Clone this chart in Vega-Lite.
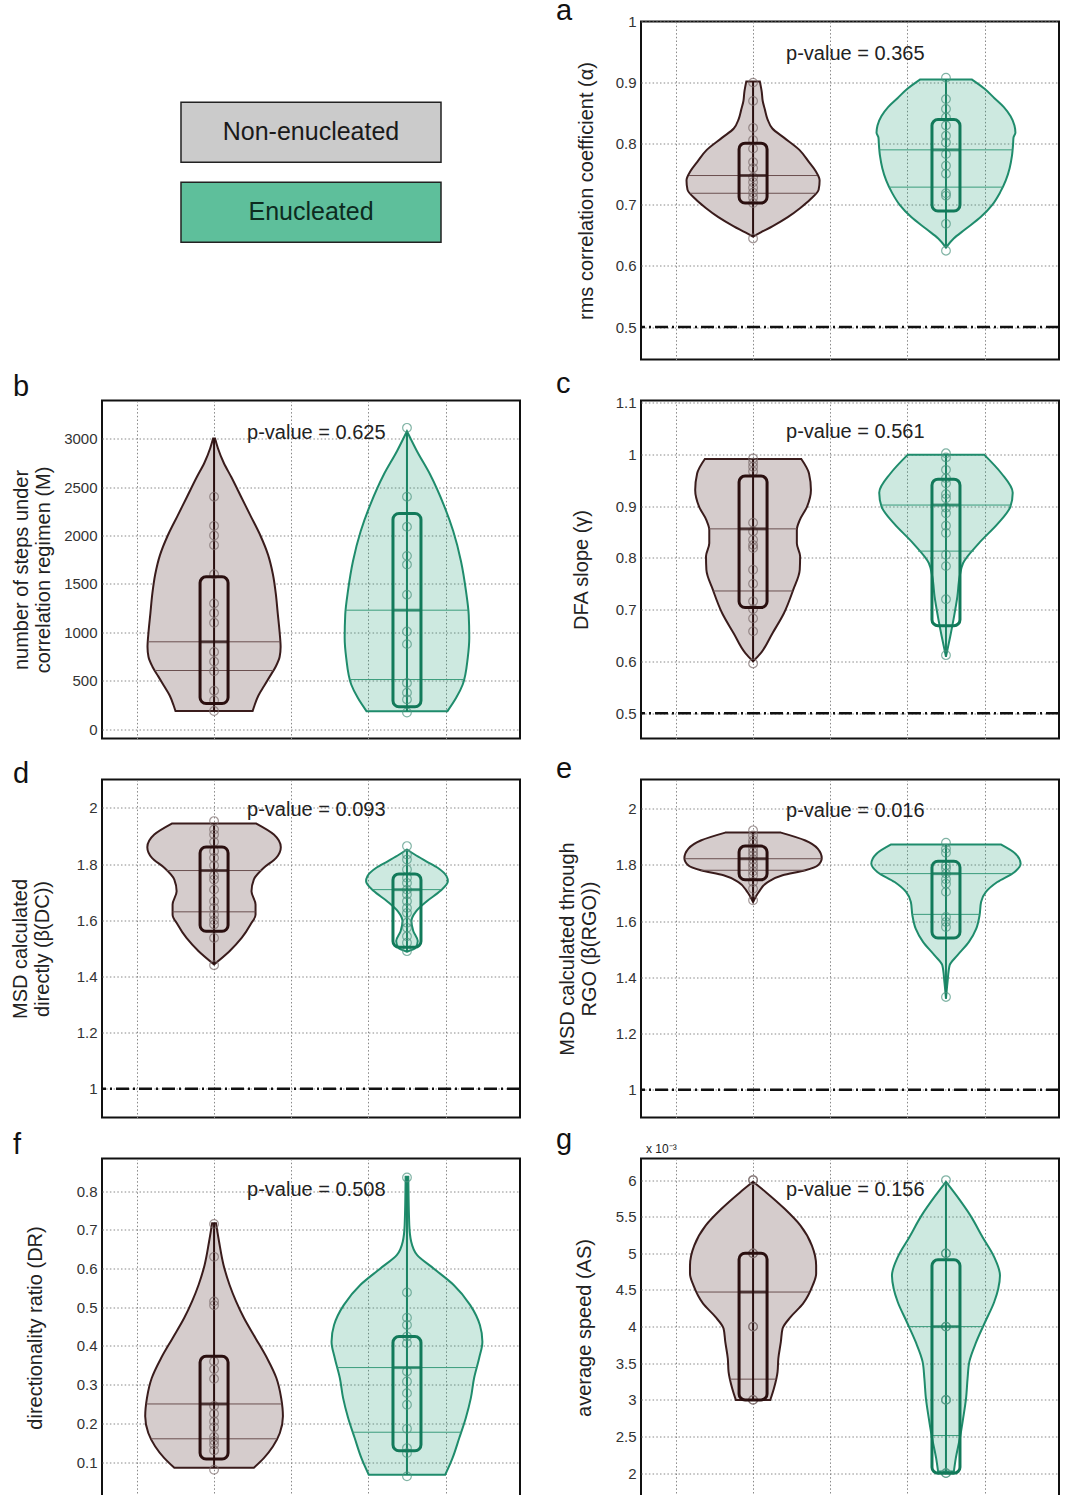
{
"$schema": "https://vega.github.io/schema/vega-lite/v6.json",
"background": "white",
"padding": {"left": 9, "top": -4.5, "right": 0, "bottom": 0},
"columns": 2,
"spacing": {"row": 41, "column": 121},
"bounds": "flush",
"config": {
 "font": "Liberation Sans",
 "view": {"stroke": "#111", "strokeWidth": 2},
 "axis": {"domain": false, "ticks": false, "labelPadding": 5, "labelFontSize": 15, "labelColor": "#333", "titleFontSize": 20, "titleFontWeight": "normal", "titleColor": "#222", "titleLineHeight": 22, "grid": true, "gridColor": "#888", "gridDash": [1.5, 2.2], "gridWidth": 1},
 "title": {"anchor": "start", "frame": "group", "fontSize": 29, "fontWeight": "normal", "color": "#111", "baseline": "alphabetic"}
},
"datasets": {
 "groups": [{"name": "Non-enucleated", "g": "N"}, {"name": "Enucleated", "g": "E"}],
 "pvals": [
  {"p":"a","label":"p-value = 0.365"},{"p":"b","label":"p-value = 0.625"},{"p":"c","label":"p-value = 0.561"},{"p":"d","label":"p-value = 0.093"},{"p":"e","label":"p-value = 0.016"},{"p":"f","label":"p-value = 0.508"},{"p":"g","label":"p-value = 0.156"}
 ],
 "stats": [
  {"p":"a","g":"N","gi":1,"mn":0.648,"mx":0.902,"q1":0.703,"q3":0.801,"md":0.748},
  {"p":"a","g":"E","gi":2,"mn":0.63,"mx":0.905,"q1":0.69,"q3":0.8395,"md":0.79},
  {"p":"b","g":"N","gi":1,"mn":190,"mx":3000,"q1":268,"q3":1574,"md":904},
  {"p":"b","g":"E","gi":2,"mn":189,"mx":3075,"q1":234,"q3":2227,"md":1230},
  {"p":"c","g":"N","gi":1,"mn":0.6,"mx":0.991,"q1":0.704,"q3":0.958,"md":0.856},
  {"p":"c","g":"E","gi":2,"mn":0.609,"mx":0.999,"q1":0.669,"q3":0.952,"md":0.902},
  {"p":"d","g":"N","gi":1,"mn":1.443,"mx":1.944,"q1":1.561,"q3":1.861,"md":1.777},
  {"p":"d","g":"E","gi":2,"mn":1.488,"mx":1.852,"q1":1.504,"q3":1.765,"md":1.709},
  {"p":"e","g":"N","gi":1,"mn":1.668,"mx":1.915,"q1":1.747,"q3":1.867,"md":1.822},
  {"p":"e","g":"E","gi":2,"mn":1.324,"mx":1.873,"q1":1.54,"q3":1.813,"md":1.769},
  {"p":"f","g":"N","gi":1,"mn":0.085,"mx":0.717,"q1":0.108,"q3":0.373,"md":0.25},
  {"p":"f","g":"E","gi":2,"mn":0.067,"mx":0.837,"q1":0.129,"q3":0.424,"md":0.344},
  {"p":"g","g":"N","gi":1,"mn":2.998,"mx":5.977,"q1":3.0,"q3":5.002,"md":4.472},
  {"p":"g","g":"E","gi":2,"mn":2.023,"mx":5.977,"q1":2.0,"q3":4.912,"md":4.0}
 ],
 "lines": [
  {"p":"a","g":"N","v":0.748,"lo":0.668,"hi":1.332},{"p":"a","g":"N","v":0.719,"lo":0.675,"hi":1.325},
  {"p":"a","g":"E","v":0.79,"lo":1.655,"hi":2.345},{"p":"a","g":"E","v":0.729,"lo":1.705,"hi":2.295},
  {"p":"b","g":"N","v":904,"lo":0.657,"hi":1.343},{"p":"b","g":"N","v":608,"lo":0.693,"hi":1.307},
  {"p":"b","g":"E","v":1230,"lo":1.682,"hi":2.318},{"p":"b","g":"E","v":515,"lo":1.705,"hi":2.295},
  {"p":"c","g":"N","v":0.856,"lo":0.772,"hi":1.228},{"p":"c","g":"N","v":0.736,"lo":0.794,"hi":1.206},
  {"p":"c","g":"E","v":0.902,"lo":1.664,"hi":2.336},{"p":"c","g":"E","v":0.813,"lo":1.855,"hi":2.145},
  {"p":"d","g":"N","v":1.777,"lo":0.754,"hi":1.246},{"p":"d","g":"N","v":1.63,"lo":0.785,"hi":1.215},
  {"p":"d","g":"E","v":1.709,"lo":1.822,"hi":2.178},
  {"p":"e","g":"N","v":1.822,"lo":0.645,"hi":1.355},{"p":"e","g":"N","v":1.781,"lo":0.729,"hi":1.271},
  {"p":"e","g":"E","v":1.769,"lo":1.66,"hi":2.34},{"p":"e","g":"E","v":1.624,"lo":1.825,"hi":2.175},
  {"p":"f","g":"N","v":0.25,"lo":0.649,"hi":1.351},{"p":"f","g":"N","v":0.16,"lo":0.675,"hi":1.325},
  {"p":"f","g":"E","v":0.344,"lo":1.638,"hi":2.362},{"p":"f","g":"E","v":0.177,"lo":1.718,"hi":2.282},
  {"p":"g","g":"N","v":4.472,"lo":0.709,"hi":1.291},{"p":"g","g":"N","v":3.283,"lo":0.88,"hi":1.12},
  {"p":"g","g":"E","v":4.0,"lo":1.808,"hi":2.192},{"p":"g","g":"E","v":2.513,"lo":1.926,"hi":2.074}
 ],
 "violin": [
  {"p":"a","g":"N","v":0.902,"lo":0.965,"hi":1.035},{"p":"a","g":"N","v":0.885,"lo":0.955,"hi":1.045},{"p":"a","g":"N","v":0.87,"lo":0.95,"hi":1.05},{"p":"a","g":"N","v":0.855,"lo":0.938,"hi":1.062},{"p":"a","g":"N","v":0.84,"lo":0.925,"hi":1.075},{"p":"a","g":"N","v":0.825,"lo":0.9,"hi":1.1},{"p":"a","g":"N","v":0.81,"lo":0.84,"hi":1.16},{"p":"a","g":"N","v":0.79,"lo":0.76,"hi":1.24},{"p":"a","g":"N","v":0.77,"lo":0.71,"hi":1.29},{"p":"a","g":"N","v":0.755,"lo":0.675,"hi":1.325},{"p":"a","g":"N","v":0.74,"lo":0.655,"hi":1.345},{"p":"a","g":"N","v":0.725,"lo":0.66,"hi":1.34},{"p":"a","g":"N","v":0.71,"lo":0.7,"hi":1.3},{"p":"a","g":"N","v":0.695,"lo":0.755,"hi":1.245},{"p":"a","g":"N","v":0.68,"lo":0.82,"hi":1.18},{"p":"a","g":"N","v":0.665,"lo":0.9,"hi":1.1},{"p":"a","g":"N","v":0.655,"lo":0.96,"hi":1.04},{"p":"a","g":"N","v":0.648,"lo":1,"hi":1},
  {"p":"a","g":"E","v":0.905,"lo":1.865,"hi":2.135},{"p":"a","g":"E","v":0.89,"lo":1.8,"hi":2.2},{"p":"a","g":"E","v":0.875,"lo":1.75,"hi":2.25},{"p":"a","g":"E","v":0.86,"lo":1.7,"hi":2.3},{"p":"a","g":"E","v":0.845,"lo":1.665,"hi":2.335},{"p":"a","g":"E","v":0.83,"lo":1.645,"hi":2.355},{"p":"a","g":"E","v":0.818,"lo":1.64,"hi":2.36},{"p":"a","g":"E","v":0.81,"lo":1.65,"hi":2.35},{"p":"a","g":"E","v":0.8,"lo":1.652,"hi":2.348},{"p":"a","g":"E","v":0.78,"lo":1.658,"hi":2.342},{"p":"a","g":"E","v":0.76,"lo":1.67,"hi":2.33},{"p":"a","g":"E","v":0.74,"lo":1.69,"hi":2.31},{"p":"a","g":"E","v":0.72,"lo":1.72,"hi":2.28},{"p":"a","g":"E","v":0.7,"lo":1.76,"hi":2.24},{"p":"a","g":"E","v":0.68,"lo":1.82,"hi":2.18},{"p":"a","g":"E","v":0.66,"lo":1.9,"hi":2.1},{"p":"a","g":"E","v":0.645,"lo":1.96,"hi":2.04},{"p":"a","g":"E","v":0.63,"lo":2,"hi":2},
  {"p":"b","g":"N","v":3000,"lo":0.995,"hi":1.005},{"p":"b","g":"N","v":2900,"lo":0.98,"hi":1.02},{"p":"b","g":"N","v":2750,"lo":0.95,"hi":1.05},{"p":"b","g":"N","v":2600,"lo":0.91,"hi":1.09},{"p":"b","g":"N","v":2400,"lo":0.86,"hi":1.14},{"p":"b","g":"N","v":2200,"lo":0.81,"hi":1.19},{"p":"b","g":"N","v":2000,"lo":0.76,"hi":1.24},{"p":"b","g":"N","v":1800,"lo":0.72,"hi":1.28},{"p":"b","g":"N","v":1600,"lo":0.695,"hi":1.305},{"p":"b","g":"N","v":1400,"lo":0.68,"hi":1.32},{"p":"b","g":"N","v":1200,"lo":0.67,"hi":1.33},{"p":"b","g":"N","v":1000,"lo":0.66,"hi":1.34},{"p":"b","g":"N","v":850,"lo":0.655,"hi":1.345},{"p":"b","g":"N","v":750,"lo":0.66,"hi":1.34},{"p":"b","g":"N","v":650,"lo":0.68,"hi":1.32},{"p":"b","g":"N","v":550,"lo":0.71,"hi":1.29},{"p":"b","g":"N","v":450,"lo":0.74,"hi":1.26},{"p":"b","g":"N","v":350,"lo":0.77,"hi":1.23},{"p":"b","g":"N","v":250,"lo":0.79,"hi":1.21},{"p":"b","g":"N","v":190,"lo":0.8,"hi":1.2},
  {"p":"b","g":"E","v":3075,"lo":2,"hi":2},{"p":"b","g":"E","v":2869,"lo":1.948,"hi":2.052},{"p":"b","g":"E","v":2629,"lo":1.88,"hi":2.12},{"p":"b","g":"E","v":2319,"lo":1.81,"hi":2.19},{"p":"b","g":"E","v":2044,"lo":1.76,"hi":2.24},{"p":"b","g":"E","v":1735,"lo":1.72,"hi":2.28},{"p":"b","g":"E","v":1426,"lo":1.694,"hi":2.306},{"p":"b","g":"E","v":1185,"lo":1.68,"hi":2.32},{"p":"b","g":"E","v":945,"lo":1.677,"hi":2.323},{"p":"b","g":"E","v":739,"lo":1.685,"hi":2.315},{"p":"b","g":"E","v":464,"lo":1.711,"hi":2.289},{"p":"b","g":"E","v":326,"lo":1.745,"hi":2.255},{"p":"b","g":"E","v":189,"lo":1.79,"hi":2.21},
  {"p":"c","g":"N","v":0.991,"lo":0.75,"hi":1.25},{"p":"c","g":"N","v":0.963,"lo":0.71,"hi":1.29},{"p":"c","g":"N","v":0.931,"lo":0.7,"hi":1.3},{"p":"c","g":"N","v":0.899,"lo":0.72,"hi":1.28},{"p":"c","g":"N","v":0.873,"lo":0.758,"hi":1.242},{"p":"c","g":"N","v":0.854,"lo":0.773,"hi":1.227},{"p":"c","g":"N","v":0.828,"lo":0.773,"hi":1.227},{"p":"c","g":"N","v":0.803,"lo":0.756,"hi":1.244},{"p":"c","g":"N","v":0.777,"lo":0.758,"hi":1.242},{"p":"c","g":"N","v":0.738,"lo":0.792,"hi":1.208},{"p":"c","g":"N","v":0.693,"lo":0.84,"hi":1.16},{"p":"c","g":"N","v":0.654,"lo":0.9,"hi":1.1},{"p":"c","g":"N","v":0.616,"lo":0.96,"hi":1.04},{"p":"c","g":"N","v":0.6,"lo":1,"hi":1},
  {"p":"c","g":"E","v":0.999,"lo":1.801,"hi":2.199},{"p":"c","g":"E","v":0.963,"lo":1.712,"hi":2.288},{"p":"c","g":"E","v":0.926,"lo":1.654,"hi":2.346},{"p":"c","g":"E","v":0.899,"lo":1.666,"hi":2.334},{"p":"c","g":"E","v":0.867,"lo":1.729,"hi":2.271},{"p":"c","g":"E","v":0.828,"lo":1.83,"hi":2.17},{"p":"c","g":"E","v":0.79,"lo":1.911,"hi":2.089},{"p":"c","g":"E","v":0.764,"lo":1.929,"hi":2.071},{"p":"c","g":"E","v":0.725,"lo":1.941,"hi":2.059},{"p":"c","g":"E","v":0.687,"lo":1.958,"hi":2.042},{"p":"c","g":"E","v":0.648,"lo":1.978,"hi":2.022},{"p":"c","g":"E","v":0.609,"lo":2,"hi":2},
  {"p":"d","g":"N","v":1.944,"lo":0.781,"hi":1.219},{"p":"d","g":"N","v":1.905,"lo":0.69,"hi":1.31},{"p":"d","g":"N","v":1.86,"lo":0.654,"hi":1.346},{"p":"d","g":"N","v":1.822,"lo":0.678,"hi":1.322},{"p":"d","g":"N","v":1.787,"lo":0.742,"hi":1.258},{"p":"d","g":"N","v":1.745,"lo":0.794,"hi":1.206},{"p":"d","g":"N","v":1.703,"lo":0.806,"hi":1.194},{"p":"d","g":"N","v":1.656,"lo":0.785,"hi":1.215},{"p":"d","g":"N","v":1.62,"lo":0.785,"hi":1.215},{"p":"d","g":"N","v":1.585,"lo":0.811,"hi":1.189},{"p":"d","g":"N","v":1.537,"lo":0.857,"hi":1.143},{"p":"d","g":"N","v":1.49,"lo":0.92,"hi":1.08},{"p":"d","g":"N","v":1.443,"lo":1,"hi":1},
  {"p":"d","g":"E","v":1.852,"lo":2,"hi":2},{"p":"d","g":"E","v":1.834,"lo":1.96,"hi":2.04},{"p":"d","g":"E","v":1.81,"lo":1.9,"hi":2.1},{"p":"d","g":"E","v":1.787,"lo":1.841,"hi":2.159},{"p":"d","g":"E","v":1.757,"lo":1.795,"hi":2.205},{"p":"d","g":"E","v":1.739,"lo":1.788,"hi":2.212},{"p":"d","g":"E","v":1.704,"lo":1.828,"hi":2.172},{"p":"d","g":"E","v":1.668,"lo":1.897,"hi":2.103},{"p":"d","g":"E","v":1.632,"lo":1.953,"hi":2.047},{"p":"d","g":"E","v":1.597,"lo":1.977,"hi":2.023},{"p":"d","g":"E","v":1.561,"lo":1.967,"hi":2.033},{"p":"d","g":"E","v":1.526,"lo":1.944,"hi":2.056},{"p":"d","g":"E","v":1.502,"lo":1.955,"hi":2.045},{"p":"d","g":"E","v":1.488,"lo":2,"hi":2},
  {"p":"e","g":"N","v":1.915,"lo":0.856,"hi":1.144},{"p":"e","g":"N","v":1.887,"lo":0.729,"hi":1.271},{"p":"e","g":"N","v":1.858,"lo":0.665,"hi":1.335},{"p":"e","g":"N","v":1.824,"lo":0.644,"hi":1.356},{"p":"e","g":"N","v":1.798,"lo":0.665,"hi":1.335},{"p":"e","g":"N","v":1.781,"lo":0.729,"hi":1.271},{"p":"e","g":"N","v":1.763,"lo":0.847,"hi":1.153},{"p":"e","g":"N","v":1.739,"lo":0.924,"hi":1.076},{"p":"e","g":"N","v":1.704,"lo":0.97,"hi":1.03},{"p":"e","g":"N","v":1.668,"lo":1,"hi":1},
  {"p":"e","g":"E","v":1.873,"lo":1.716,"hi":2.284},{"p":"e","g":"E","v":1.84,"lo":1.64,"hi":2.36},{"p":"e","g":"E","v":1.804,"lo":1.613,"hi":2.387},{"p":"e","g":"E","v":1.775,"lo":1.644,"hi":2.356},{"p":"e","g":"E","v":1.739,"lo":1.734,"hi":2.266},{"p":"e","g":"E","v":1.704,"lo":1.793,"hi":2.207},{"p":"e","g":"E","v":1.668,"lo":1.818,"hi":2.182},{"p":"e","g":"E","v":1.62,"lo":1.826,"hi":2.174},{"p":"e","g":"E","v":1.573,"lo":1.843,"hi":2.157},{"p":"e","g":"E","v":1.526,"lo":1.881,"hi":2.119},{"p":"e","g":"E","v":1.478,"lo":1.941,"hi":2.059},{"p":"e","g":"E","v":1.443,"lo":1.981,"hi":2.019},{"p":"e","g":"E","v":1.383,"lo":1.992,"hi":2.008},{"p":"e","g":"E","v":1.324,"lo":2,"hi":2},
  {"p":"f","g":"N","v":0.717,"lo":0.99,"hi":1.01},{"p":"f","g":"N","v":0.669,"lo":0.974,"hi":1.026},{"p":"f","g":"N","v":0.609,"lo":0.951,"hi":1.049},{"p":"f","g":"N","v":0.558,"lo":0.92,"hi":1.08},{"p":"f","g":"N","v":0.515,"lo":0.886,"hi":1.114},{"p":"f","g":"N","v":0.472,"lo":0.845,"hi":1.155},{"p":"f","g":"N","v":0.42,"lo":0.785,"hi":1.215},{"p":"f","g":"N","v":0.368,"lo":0.725,"hi":1.275},{"p":"f","g":"N","v":0.317,"lo":0.677,"hi":1.323},{"p":"f","g":"N","v":0.265,"lo":0.652,"hi":1.348},{"p":"f","g":"N","v":0.218,"lo":0.643,"hi":1.357},{"p":"f","g":"N","v":0.175,"lo":0.659,"hi":1.341},{"p":"f","g":"N","v":0.14,"lo":0.695,"hi":1.305},{"p":"f","g":"N","v":0.11,"lo":0.742,"hi":1.258},{"p":"f","g":"N","v":0.085,"lo":0.794,"hi":1.206},
  {"p":"f","g":"E","v":0.837,"lo":1.993,"hi":2.007},{"p":"f","g":"E","v":0.712,"lo":1.988,"hi":2.012},{"p":"f","g":"E","v":0.669,"lo":1.978,"hi":2.022},{"p":"f","g":"E","v":0.635,"lo":1.948,"hi":2.052},{"p":"f","g":"E","v":0.6,"lo":1.862,"hi":2.138},{"p":"f","g":"E","v":0.558,"lo":1.759,"hi":2.241},{"p":"f","g":"E","v":0.506,"lo":1.673,"hi":2.327},{"p":"f","g":"E","v":0.454,"lo":1.622,"hi":2.378},{"p":"f","g":"E","v":0.411,"lo":1.609,"hi":2.391},{"p":"f","g":"E","v":0.368,"lo":1.626,"hi":2.374},{"p":"f","g":"E","v":0.317,"lo":1.652,"hi":2.348},{"p":"f","g":"E","v":0.265,"lo":1.669,"hi":2.331},{"p":"f","g":"E","v":0.214,"lo":1.695,"hi":2.305},{"p":"f","g":"E","v":0.162,"lo":1.729,"hi":2.271},{"p":"f","g":"E","v":0.11,"lo":1.764,"hi":2.236},{"p":"f","g":"E","v":0.067,"lo":1.802,"hi":2.198},
  {"p":"g","g":"N","v":5.977,"lo":1,"hi":1},{"p":"g","g":"N","v":5.832,"lo":0.932,"hi":1.068},{"p":"g","g":"N","v":5.605,"lo":0.835,"hi":1.165},{"p":"g","g":"N","v":5.379,"lo":0.754,"hi":1.246},{"p":"g","g":"N","v":5.107,"lo":0.695,"hi":1.305},{"p":"g","g":"N","v":4.834,"lo":0.673,"hi":1.327},{"p":"g","g":"N","v":4.721,"lo":0.673,"hi":1.327},{"p":"g","g":"N","v":4.562,"lo":0.691,"hi":1.309},{"p":"g","g":"N","v":4.313,"lo":0.741,"hi":1.259},{"p":"g","g":"N","v":4.132,"lo":0.805,"hi":1.195},{"p":"g","g":"N","v":3.973,"lo":0.847,"hi":1.153},{"p":"g","g":"N","v":3.791,"lo":0.856,"hi":1.144},{"p":"g","g":"N","v":3.565,"lo":0.869,"hi":1.131},{"p":"g","g":"N","v":3.383,"lo":0.873,"hi":1.127},{"p":"g","g":"N","v":3.156,"lo":0.892,"hi":1.108},{"p":"g","g":"N","v":2.998,"lo":0.911,"hi":1.089},
  {"p":"g","g":"E","v":5.977,"lo":2,"hi":2},{"p":"g","g":"E","v":5.787,"lo":1.945,"hi":2.055},{"p":"g","g":"E","v":5.515,"lo":1.873,"hi":2.127},{"p":"g","g":"E","v":5.22,"lo":1.81,"hi":2.19},{"p":"g","g":"E","v":4.948,"lo":1.75,"hi":2.25},{"p":"g","g":"E","v":4.698,"lo":1.72,"hi":2.28},{"p":"g","g":"E","v":4.517,"lo":1.729,"hi":2.271},{"p":"g","g":"E","v":4.336,"lo":1.75,"hi":2.25},{"p":"g","g":"E","v":4.063,"lo":1.797,"hi":2.203},{"p":"g","g":"E","v":3.791,"lo":1.843,"hi":2.157},{"p":"g","g":"E","v":3.519,"lo":1.879,"hi":2.121},{"p":"g","g":"E","v":3.293,"lo":1.888,"hi":2.112},{"p":"g","g":"E","v":3.02,"lo":1.896,"hi":2.104},{"p":"g","g":"E","v":2.748,"lo":1.911,"hi":2.089},{"p":"g","g":"E","v":2.476,"lo":1.928,"hi":2.072},{"p":"g","g":"E","v":2.204,"lo":1.949,"hi":2.051},{"p":"g","g":"E","v":2.023,"lo":1.959,"hi":2.041}
 ],
 "points": [
  {"p":"a","g":"N","gi":1,"v":0.9},{"p":"a","g":"N","gi":1,"v":0.87},{"p":"a","g":"N","gi":1,"v":0.826},{"p":"a","g":"N","gi":1,"v":0.806},{"p":"a","g":"N","gi":1,"v":0.792},{"p":"a","g":"N","gi":1,"v":0.77},{"p":"a","g":"N","gi":1,"v":0.76},{"p":"a","g":"N","gi":1,"v":0.745},{"p":"a","g":"N","gi":1,"v":0.737},{"p":"a","g":"N","gi":1,"v":0.728},{"p":"a","g":"N","gi":1,"v":0.72},{"p":"a","g":"N","gi":1,"v":0.712},{"p":"a","g":"N","gi":1,"v":0.703},{"p":"a","g":"N","gi":1,"v":0.645},
  {"p":"a","g":"E","gi":2,"v":0.908},{"p":"a","g":"E","gi":2,"v":0.873},{"p":"a","g":"E","gi":2,"v":0.857},{"p":"a","g":"E","gi":2,"v":0.843},{"p":"a","g":"E","gi":2,"v":0.83},{"p":"a","g":"E","gi":2,"v":0.813},{"p":"a","g":"E","gi":2,"v":0.802},{"p":"a","g":"E","gi":2,"v":0.783},{"p":"a","g":"E","gi":2,"v":0.764},{"p":"a","g":"E","gi":2,"v":0.751},{"p":"a","g":"E","gi":2,"v":0.719},{"p":"a","g":"E","gi":2,"v":0.715},{"p":"a","g":"E","gi":2,"v":0.669},{"p":"a","g":"E","gi":2,"v":0.625},
  {"p":"b","g":"N","gi":1,"v":2400},{"p":"b","g":"N","gi":1,"v":2100},{"p":"b","g":"N","gi":1,"v":2000},{"p":"b","g":"N","gi":1,"v":1900},{"p":"b","g":"N","gi":1,"v":1600},{"p":"b","g":"N","gi":1,"v":1300},{"p":"b","g":"N","gi":1,"v":1200},{"p":"b","g":"N","gi":1,"v":1100},{"p":"b","g":"N","gi":1,"v":800},{"p":"b","g":"N","gi":1,"v":700},{"p":"b","g":"N","gi":1,"v":600},{"p":"b","g":"N","gi":1,"v":400},{"p":"b","g":"N","gi":1,"v":300},{"p":"b","g":"N","gi":1,"v":190},
  {"p":"b","g":"E","gi":2,"v":3110},{"p":"b","g":"E","gi":2,"v":2400},{"p":"b","g":"E","gi":2,"v":2090},{"p":"b","g":"E","gi":2,"v":1790},{"p":"b","g":"E","gi":2,"v":1700},{"p":"b","g":"E","gi":2,"v":1390},{"p":"b","g":"E","gi":2,"v":1010},{"p":"b","g":"E","gi":2,"v":880},{"p":"b","g":"E","gi":2,"v":480},{"p":"b","g":"E","gi":2,"v":380},{"p":"b","g":"E","gi":2,"v":310},{"p":"b","g":"E","gi":2,"v":175},
  {"p":"c","g":"N","gi":1,"v":0.992},{"p":"c","g":"N","gi":1,"v":0.984},{"p":"c","g":"N","gi":1,"v":0.976},{"p":"c","g":"N","gi":1,"v":0.967},{"p":"c","g":"N","gi":1,"v":0.868},{"p":"c","g":"N","gi":1,"v":0.851},{"p":"c","g":"N","gi":1,"v":0.835},{"p":"c","g":"N","gi":1,"v":0.825},{"p":"c","g":"N","gi":1,"v":0.819},{"p":"c","g":"N","gi":1,"v":0.777},{"p":"c","g":"N","gi":1,"v":0.75},{"p":"c","g":"N","gi":1,"v":0.716},{"p":"c","g":"N","gi":1,"v":0.701},{"p":"c","g":"N","gi":1,"v":0.683},{"p":"c","g":"N","gi":1,"v":0.658},{"p":"c","g":"N","gi":1,"v":0.596},
  {"p":"c","g":"E","gi":2,"v":1.002},{"p":"c","g":"E","gi":2,"v":0.994},{"p":"c","g":"E","gi":2,"v":0.97},{"p":"c","g":"E","gi":2,"v":0.954},{"p":"c","g":"E","gi":2,"v":0.944},{"p":"c","g":"E","gi":2,"v":0.923},{"p":"c","g":"E","gi":2,"v":0.915},{"p":"c","g":"E","gi":2,"v":0.897},{"p":"c","g":"E","gi":2,"v":0.886},{"p":"c","g":"E","gi":2,"v":0.862},{"p":"c","g":"E","gi":2,"v":0.848},{"p":"c","g":"E","gi":2,"v":0.806},{"p":"c","g":"E","gi":2,"v":0.784},{"p":"c","g":"E","gi":2,"v":0.72},{"p":"c","g":"E","gi":2,"v":0.612},
  {"p":"d","g":"N","gi":1,"v":1.953},{"p":"d","g":"N","gi":1,"v":1.923},{"p":"d","g":"N","gi":1,"v":1.905},{"p":"d","g":"N","gi":1,"v":1.879},{"p":"d","g":"N","gi":1,"v":1.846},{"p":"d","g":"N","gi":1,"v":1.822},{"p":"d","g":"N","gi":1,"v":1.795},{"p":"d","g":"N","gi":1,"v":1.759},{"p":"d","g":"N","gi":1,"v":1.745},{"p":"d","g":"N","gi":1,"v":1.709},{"p":"d","g":"N","gi":1,"v":1.668},{"p":"d","g":"N","gi":1,"v":1.644},{"p":"d","g":"N","gi":1,"v":1.62},{"p":"d","g":"N","gi":1,"v":1.6},{"p":"d","g":"N","gi":1,"v":1.585},{"p":"d","g":"N","gi":1,"v":1.537},{"p":"d","g":"N","gi":1,"v":1.44},
  {"p":"d","g":"E","gi":2,"v":1.864},{"p":"d","g":"E","gi":2,"v":1.834},{"p":"d","g":"E","gi":2,"v":1.816},{"p":"d","g":"E","gi":2,"v":1.781},{"p":"d","g":"E","gi":2,"v":1.751},{"p":"d","g":"E","gi":2,"v":1.733},{"p":"d","g":"E","gi":2,"v":1.709},{"p":"d","g":"E","gi":2,"v":1.692},{"p":"d","g":"E","gi":2,"v":1.668},{"p":"d","g":"E","gi":2,"v":1.644},{"p":"d","g":"E","gi":2,"v":1.626},{"p":"d","g":"E","gi":2,"v":1.591},{"p":"d","g":"E","gi":2,"v":1.573},{"p":"d","g":"E","gi":2,"v":1.543},{"p":"d","g":"E","gi":2,"v":1.52},{"p":"d","g":"E","gi":2,"v":1.49},
  {"p":"e","g":"N","gi":1,"v":1.923},{"p":"e","g":"N","gi":1,"v":1.905},{"p":"e","g":"N","gi":1,"v":1.887},{"p":"e","g":"N","gi":1,"v":1.875},{"p":"e","g":"N","gi":1,"v":1.858},{"p":"e","g":"N","gi":1,"v":1.846},{"p":"e","g":"N","gi":1,"v":1.834},{"p":"e","g":"N","gi":1,"v":1.82},{"p":"e","g":"N","gi":1,"v":1.804},{"p":"e","g":"N","gi":1,"v":1.792},{"p":"e","g":"N","gi":1,"v":1.777},{"p":"e","g":"N","gi":1,"v":1.763},{"p":"e","g":"N","gi":1,"v":1.739},{"p":"e","g":"N","gi":1,"v":1.715},{"p":"e","g":"N","gi":1,"v":1.674},
  {"p":"e","g":"E","gi":2,"v":1.879},{"p":"e","g":"E","gi":2,"v":1.858},{"p":"e","g":"E","gi":2,"v":1.843},{"p":"e","g":"E","gi":2,"v":1.798},{"p":"e","g":"E","gi":2,"v":1.787},{"p":"e","g":"E","gi":2,"v":1.769},{"p":"e","g":"E","gi":2,"v":1.749},{"p":"e","g":"E","gi":2,"v":1.733},{"p":"e","g":"E","gi":2,"v":1.704},{"p":"e","g":"E","gi":2,"v":1.615},{"p":"e","g":"E","gi":2,"v":1.597},{"p":"e","g":"E","gi":2,"v":1.579},{"p":"e","g":"E","gi":2,"v":1.33},
  {"p":"f","g":"N","gi":1,"v":0.715},{"p":"f","g":"N","gi":1,"v":0.63},{"p":"f","g":"N","gi":1,"v":0.515},{"p":"f","g":"N","gi":1,"v":0.505},{"p":"f","g":"N","gi":1,"v":0.36},{"p":"f","g":"N","gi":1,"v":0.34},{"p":"f","g":"N","gi":1,"v":0.315},{"p":"f","g":"N","gi":1,"v":0.245},{"p":"f","g":"N","gi":1,"v":0.225},{"p":"f","g":"N","gi":1,"v":0.205},{"p":"f","g":"N","gi":1,"v":0.19},{"p":"f","g":"N","gi":1,"v":0.165},{"p":"f","g":"N","gi":1,"v":0.155},{"p":"f","g":"N","gi":1,"v":0.145},{"p":"f","g":"N","gi":1,"v":0.13},{"p":"f","g":"N","gi":1,"v":0.08},
  {"p":"f","g":"E","gi":2,"v":0.835},{"p":"f","g":"E","gi":2,"v":0.538},{"p":"f","g":"E","gi":2,"v":0.473},{"p":"f","g":"E","gi":2,"v":0.454},{"p":"f","g":"E","gi":2,"v":0.424},{"p":"f","g":"E","gi":2,"v":0.407},{"p":"f","g":"E","gi":2,"v":0.334},{"p":"f","g":"E","gi":2,"v":0.308},{"p":"f","g":"E","gi":2,"v":0.278},{"p":"f","g":"E","gi":2,"v":0.248},{"p":"f","g":"E","gi":2,"v":0.186},{"p":"f","g":"E","gi":2,"v":0.136},{"p":"f","g":"E","gi":2,"v":0.123},{"p":"f","g":"E","gi":2,"v":0.063},
  {"p":"g","g":"N","gi":1,"v":6},{"p":"g","g":"N","gi":1,"v":6},{"p":"g","g":"N","gi":1,"v":5},{"p":"g","g":"N","gi":1,"v":5},{"p":"g","g":"N","gi":1,"v":4},{"p":"g","g":"N","gi":1,"v":4},{"p":"g","g":"N","gi":1,"v":3},{"p":"g","g":"N","gi":1,"v":3},
  {"p":"g","g":"E","gi":2,"v":6},{"p":"g","g":"E","gi":2,"v":5},{"p":"g","g":"E","gi":2,"v":5},{"p":"g","g":"E","gi":2,"v":4},{"p":"g","g":"E","gi":2,"v":4},{"p":"g","g":"E","gi":2,"v":3},{"p":"g","g":"E","gi":2,"v":3},{"p":"g","g":"E","gi":2,"v":2},{"p":"g","g":"E","gi":2,"v":2}
 ]
},
"concat": [
 {
  "width": 418, "height": 300,
  "view": {"stroke": null},
  "data": {"name": "groups"},
  "layer": [
   {"mark": {"type": "rect", "stroke": "#222", "strokeWidth": 1.5},
    "encoding": {
     "y": {"field": "name", "type": "nominal", "sort": null, "scale": {"paddingInner": 0.25, "paddingOuter": 1, "align": 0.505}, "axis": null},
     "x": {"datum": "k", "type": "nominal", "scale": {"paddingInner": 0, "paddingOuter": 0.3038}, "axis": null},
     "fill": {"condition": {"test": "datum.g === 'E'", "value": "#5ebf9b"}, "value": "#cbcbcb"}
    }},
   {"mark": {"type": "text", "fontSize": 25, "align": "center", "baseline": "middle"},
    "encoding": {
     "y": {"field": "name", "type": "nominal", "sort": null, "scale": {"paddingInner": 0.25, "paddingOuter": 1, "align": 0.505}, "axis": null},
     "x": {"datum": "k", "type": "nominal", "scale": {"paddingInner": 0, "paddingOuter": 0.3038}, "axis": null},
     "text": {"field": "name"},
     "color": {"condition": {"test": "datum.g === 'E'", "value": "#0d2b1f"}, "value": "#1a1a1a"}
    }}
  ]
 },
 {
  "width": 418, "height": 338,
  "title": {"text": "a", "dx": -85, "offset": -11.7},
  "layer": [
   {"data": {"name": "violin"}, "transform": [{"filter": "datum.p === 'a'"}],
    "mark": {"type": "area", "orient": "horizontal", "interpolate": "monotone", "strokeWidth": 2},
    "encoding": {
     "y": {"field": "v", "type": "quantitative", "scale": {"domain": [0.447, 1], "nice": false, "zero": false}, "axis": {"values": [0.5, 0.6, 0.7, 0.8, 0.9, 1], "format": "~g", "title": "rms correlation coefficient (α)", "titlePadding": 19}},
     "x": {"field": "lo", "type": "quantitative", "scale": {"domain": [0.445, 2.56], "nice": false, "zero": false}, "axis": {"values": [0.6, 1, 1.4, 1.8, 2.2], "labels": false, "title": null}},
     "x2": {"field": "hi"},
     "detail": {"field": "g", "type": "nominal"},
     "fill": {"condition": {"test": "datum.g === 'E'", "value": "#1a9a70"}, "value": "#d5cccc"},
     "fillOpacity": {"condition": {"test": "datum.g === 'E'", "value": 0.22}, "value": 1},
     "stroke": {"condition": {"test": "datum.g === 'E'", "value": "#1f8c6c"}, "value": "#3a1c1c"}
    }},
   {"data": {"name": "lines"}, "transform": [{"filter": "datum.p === 'a'"}],
    "mark": {"type": "rule", "strokeWidth": 1},
    "encoding": {
     "y": {"field": "v", "type": "quantitative", "scale": {"domain": [0.447, 1], "nice": false, "zero": false}},
     "x": {"field": "lo", "type": "quantitative", "scale": {"domain": [0.445, 2.56], "nice": false, "zero": false}},
     "x2": {"field": "hi"},
     "stroke": {"condition": {"test": "datum.g === 'E'", "value": "#3a9c7c"}, "value": "#6b5050"}
    }},
   {"data": {"name": "stats"}, "transform": [{"filter": "datum.p === 'a'"}],
    "mark": {"type": "rule", "strokeWidth": 2},
    "encoding": {
     "x": {"field": "gi", "type": "quantitative", "scale": {"domain": [0.445, 2.56], "nice": false, "zero": false}},
     "y": {"field": "mn", "type": "quantitative", "scale": {"domain": [0.447, 1], "nice": false, "zero": false}},
     "y2": {"field": "mx"},
     "stroke": {"condition": {"test": "datum.g === 'E'", "value": "#1a8464"}, "value": "#2a0f0f"}
    }},
   {"data": {"name": "points"}, "transform": [{"filter": "datum.p === 'a'"}],
    "mark": {"type": "point", "shape": "circle", "filled": false, "size": 75, "strokeWidth": 1.2},
    "encoding": {
     "x": {"field": "gi", "type": "quantitative", "scale": {"domain": [0.445, 2.56], "nice": false, "zero": false}},
     "y": {"field": "v", "type": "quantitative", "scale": {"domain": [0.447, 1], "nice": false, "zero": false}},
     "stroke": {"condition": {"test": "datum.g === 'E'", "value": "#4d9580"}, "value": "#7a6a6a"}
    }},
   {"data": {"name": "stats"}, "transform": [{"filter": "datum.p === 'a'"}],
    "mark": {"type": "bar", "width": 28, "cornerRadius": 6, "fill": "transparent", "strokeWidth": 3},
    "encoding": {
     "x": {"field": "gi", "type": "quantitative", "scale": {"domain": [0.445, 2.56], "nice": false, "zero": false}},
     "y": {"field": "q1", "type": "quantitative", "scale": {"domain": [0.447, 1], "nice": false, "zero": false}},
     "y2": {"field": "q3"},
     "stroke": {"condition": {"test": "datum.g === 'E'", "value": "#127a5a"}, "value": "#2a0f0f"}
    }},
   {"data": {"name": "stats"}, "transform": [{"filter": "datum.p === 'a'"}],
    "mark": {"type": "tick", "orient": "horizontal", "size": 28, "thickness": 3},
    "encoding": {
     "x": {"field": "gi", "type": "quantitative", "scale": {"domain": [0.445, 2.56], "nice": false, "zero": false}},
     "y": {"field": "md", "type": "quantitative", "scale": {"domain": [0.447, 1], "nice": false, "zero": false}},
     "color": {"condition": {"test": "datum.g === 'E'", "value": "#127a5a"}, "value": "#2a0f0f"}
    }},
   {"data": {"name": "pvals"}, "transform": [{"filter": "datum.p === 'a'"}],
    "mark": {"type": "text", "fontSize": 20, "align": "center", "baseline": "alphabetic", "color": "#222"},
    "encoding": {
     "x": {"datum": 1.53, "type": "quantitative", "scale": {"domain": [0.445, 2.56], "nice": false, "zero": false}},
     "y": {"datum": 0.937, "type": "quantitative", "scale": {"domain": [0.447, 1], "nice": false, "zero": false}},
     "text": {"field": "label"}
    }},
   {"data": {"values": [{}]},
    "mark": {"type": "rule", "strokeWidth": 2.5, "strokeDash": [13, 4, 2, 4], "color": "#111"},
    "encoding": {"y": {"datum": 0.5, "type": "quantitative", "scale": {"domain": [0.447, 1], "nice": false, "zero": false}}}}
  ]
 },
 {
  "width": 418, "height": 338,
  "title": {"text": "b", "dx": -89, "offset": -1.4},
  "layer": [
   {"data": {"name": "violin"}, "transform": [{"filter": "datum.p === 'b'"}],
    "mark": {"type": "area", "orient": "horizontal", "interpolate": "monotone", "strokeWidth": 2},
    "encoding": {
     "y": {"field": "v", "type": "quantitative", "scale": {"domain": [-93, 3392], "nice": false, "zero": false}, "axis": {"values": [0, 500, 1000, 1500, 2000, 2500, 3000], "format": "d", "title": ["number of steps under", "correlation regimen (M)"], "titlePadding": 10}},
     "x": {"field": "lo", "type": "quantitative", "scale": {"domain": [0.445, 2.56], "nice": false, "zero": false}, "axis": {"values": [0.6, 1, 1.4, 1.8, 2.2], "labels": false, "title": null}},
     "x2": {"field": "hi"},
     "detail": {"field": "g", "type": "nominal"},
     "fill": {"condition": {"test": "datum.g === 'E'", "value": "#1a9a70"}, "value": "#d5cccc"},
     "fillOpacity": {"condition": {"test": "datum.g === 'E'", "value": 0.22}, "value": 1},
     "stroke": {"condition": {"test": "datum.g === 'E'", "value": "#1f8c6c"}, "value": "#3a1c1c"}
    }},
   {"data": {"name": "lines"}, "transform": [{"filter": "datum.p === 'b'"}],
    "mark": {"type": "rule", "strokeWidth": 1},
    "encoding": {
     "y": {"field": "v", "type": "quantitative", "scale": {"domain": [-93, 3392], "nice": false, "zero": false}},
     "x": {"field": "lo", "type": "quantitative", "scale": {"domain": [0.445, 2.56], "nice": false, "zero": false}},
     "x2": {"field": "hi"},
     "stroke": {"condition": {"test": "datum.g === 'E'", "value": "#3a9c7c"}, "value": "#6b5050"}
    }},
   {"data": {"name": "stats"}, "transform": [{"filter": "datum.p === 'b'"}],
    "mark": {"type": "rule", "strokeWidth": 2},
    "encoding": {
     "x": {"field": "gi", "type": "quantitative", "scale": {"domain": [0.445, 2.56], "nice": false, "zero": false}},
     "y": {"field": "mn", "type": "quantitative", "scale": {"domain": [-93, 3392], "nice": false, "zero": false}},
     "y2": {"field": "mx"},
     "stroke": {"condition": {"test": "datum.g === 'E'", "value": "#1a8464"}, "value": "#2a0f0f"}
    }},
   {"data": {"name": "points"}, "transform": [{"filter": "datum.p === 'b'"}],
    "mark": {"type": "point", "shape": "circle", "filled": false, "size": 75, "strokeWidth": 1.2},
    "encoding": {
     "x": {"field": "gi", "type": "quantitative", "scale": {"domain": [0.445, 2.56], "nice": false, "zero": false}},
     "y": {"field": "v", "type": "quantitative", "scale": {"domain": [-93, 3392], "nice": false, "zero": false}},
     "stroke": {"condition": {"test": "datum.g === 'E'", "value": "#4d9580"}, "value": "#7a6a6a"}
    }},
   {"data": {"name": "stats"}, "transform": [{"filter": "datum.p === 'b'"}],
    "mark": {"type": "bar", "width": 28, "cornerRadius": 6, "fill": "transparent", "strokeWidth": 3},
    "encoding": {
     "x": {"field": "gi", "type": "quantitative", "scale": {"domain": [0.445, 2.56], "nice": false, "zero": false}},
     "y": {"field": "q1", "type": "quantitative", "scale": {"domain": [-93, 3392], "nice": false, "zero": false}},
     "y2": {"field": "q3"},
     "stroke": {"condition": {"test": "datum.g === 'E'", "value": "#127a5a"}, "value": "#2a0f0f"}
    }},
   {"data": {"name": "stats"}, "transform": [{"filter": "datum.p === 'b'"}],
    "mark": {"type": "tick", "orient": "horizontal", "size": 28, "thickness": 3},
    "encoding": {
     "x": {"field": "gi", "type": "quantitative", "scale": {"domain": [0.445, 2.56], "nice": false, "zero": false}},
     "y": {"field": "md", "type": "quantitative", "scale": {"domain": [-93, 3392], "nice": false, "zero": false}},
     "color": {"condition": {"test": "datum.g === 'E'", "value": "#127a5a"}, "value": "#2a0f0f"}
    }},
   {"data": {"name": "pvals"}, "transform": [{"filter": "datum.p === 'b'"}],
    "mark": {"type": "text", "fontSize": 20, "align": "center", "baseline": "alphabetic", "color": "#222"},
    "encoding": {
     "x": {"datum": 1.53, "type": "quantitative", "scale": {"domain": [0.445, 2.56], "nice": false, "zero": false}},
     "y": {"datum": 2995, "type": "quantitative", "scale": {"domain": [-93, 3392], "nice": false, "zero": false}},
     "text": {"field": "label"}
    }}
  ]
 },
 {
  "width": 418, "height": 338,
  "title": {"text": "c", "dx": -85, "offset": -3.8},
  "layer": [
   {"data": {"name": "violin"}, "transform": [{"filter": "datum.p === 'c'"}],
    "mark": {"type": "area", "orient": "horizontal", "interpolate": "monotone", "strokeWidth": 2},
    "encoding": {
     "y": {"field": "v", "type": "quantitative", "scale": {"domain": [0.451, 1.104], "nice": false, "zero": false}, "axis": {"values": [0.5, 0.6, 0.7, 0.8, 0.9, 1, 1.1], "format": "~g", "title": "DFA slope (γ)", "titlePadding": 24}},
     "x": {"field": "lo", "type": "quantitative", "scale": {"domain": [0.445, 2.56], "nice": false, "zero": false}, "axis": {"values": [0.6, 1, 1.4, 1.8, 2.2], "labels": false, "title": null}},
     "x2": {"field": "hi"},
     "detail": {"field": "g", "type": "nominal"},
     "fill": {"condition": {"test": "datum.g === 'E'", "value": "#1a9a70"}, "value": "#d5cccc"},
     "fillOpacity": {"condition": {"test": "datum.g === 'E'", "value": 0.22}, "value": 1},
     "stroke": {"condition": {"test": "datum.g === 'E'", "value": "#1f8c6c"}, "value": "#3a1c1c"}
    }},
   {"data": {"name": "lines"}, "transform": [{"filter": "datum.p === 'c'"}],
    "mark": {"type": "rule", "strokeWidth": 1},
    "encoding": {
     "y": {"field": "v", "type": "quantitative", "scale": {"domain": [0.451, 1.104], "nice": false, "zero": false}},
     "x": {"field": "lo", "type": "quantitative", "scale": {"domain": [0.445, 2.56], "nice": false, "zero": false}},
     "x2": {"field": "hi"},
     "stroke": {"condition": {"test": "datum.g === 'E'", "value": "#3a9c7c"}, "value": "#6b5050"}
    }},
   {"data": {"name": "stats"}, "transform": [{"filter": "datum.p === 'c'"}],
    "mark": {"type": "rule", "strokeWidth": 2},
    "encoding": {
     "x": {"field": "gi", "type": "quantitative", "scale": {"domain": [0.445, 2.56], "nice": false, "zero": false}},
     "y": {"field": "mn", "type": "quantitative", "scale": {"domain": [0.451, 1.104], "nice": false, "zero": false}},
     "y2": {"field": "mx"},
     "stroke": {"condition": {"test": "datum.g === 'E'", "value": "#1a8464"}, "value": "#2a0f0f"}
    }},
   {"data": {"name": "points"}, "transform": [{"filter": "datum.p === 'c'"}],
    "mark": {"type": "point", "shape": "circle", "filled": false, "size": 75, "strokeWidth": 1.2},
    "encoding": {
     "x": {"field": "gi", "type": "quantitative", "scale": {"domain": [0.445, 2.56], "nice": false, "zero": false}},
     "y": {"field": "v", "type": "quantitative", "scale": {"domain": [0.451, 1.104], "nice": false, "zero": false}},
     "stroke": {"condition": {"test": "datum.g === 'E'", "value": "#4d9580"}, "value": "#7a6a6a"}
    }},
   {"data": {"name": "stats"}, "transform": [{"filter": "datum.p === 'c'"}],
    "mark": {"type": "bar", "width": 28, "cornerRadius": 6, "fill": "transparent", "strokeWidth": 3},
    "encoding": {
     "x": {"field": "gi", "type": "quantitative", "scale": {"domain": [0.445, 2.56], "nice": false, "zero": false}},
     "y": {"field": "q1", "type": "quantitative", "scale": {"domain": [0.451, 1.104], "nice": false, "zero": false}},
     "y2": {"field": "q3"},
     "stroke": {"condition": {"test": "datum.g === 'E'", "value": "#127a5a"}, "value": "#2a0f0f"}
    }},
   {"data": {"name": "stats"}, "transform": [{"filter": "datum.p === 'c'"}],
    "mark": {"type": "tick", "orient": "horizontal", "size": 28, "thickness": 3},
    "encoding": {
     "x": {"field": "gi", "type": "quantitative", "scale": {"domain": [0.445, 2.56], "nice": false, "zero": false}},
     "y": {"field": "md", "type": "quantitative", "scale": {"domain": [0.451, 1.104], "nice": false, "zero": false}},
     "color": {"condition": {"test": "datum.g === 'E'", "value": "#127a5a"}, "value": "#2a0f0f"}
    }},
   {"data": {"name": "pvals"}, "transform": [{"filter": "datum.p === 'c'"}],
    "mark": {"type": "text", "fontSize": 20, "align": "center", "baseline": "alphabetic", "color": "#222"},
    "encoding": {
     "x": {"datum": 1.53, "type": "quantitative", "scale": {"domain": [0.445, 2.56], "nice": false, "zero": false}},
     "y": {"datum": 1.032, "type": "quantitative", "scale": {"domain": [0.451, 1.104], "nice": false, "zero": false}},
     "text": {"field": "label"}
    }},
   {"data": {"values": [{}]},
    "mark": {"type": "rule", "strokeWidth": 2.5, "strokeDash": [13, 4, 2, 4], "color": "#111"},
    "encoding": {"y": {"datum": 0.5, "type": "quantitative", "scale": {"domain": [0.451, 1.104], "nice": false, "zero": false}}}}
  ]
 },
 {
  "width": 418, "height": 338,
  "title": {"text": "d", "dx": -89, "offset": -9},
  "layer": [
   {"data": {"name": "violin"}, "transform": [{"filter": "datum.p === 'd'"}],
    "mark": {"type": "area", "orient": "horizontal", "interpolate": "monotone", "strokeWidth": 2},
    "encoding": {
     "y": {"field": "v", "type": "quantitative", "scale": {"domain": [0.898, 2.101], "nice": false, "zero": false}, "axis": {"values": [1, 1.2, 1.4, 1.6, 1.8, 2], "format": "~g", "title": ["MSD calculated", "directly (β(DC))"], "titlePadding": 24}},
     "x": {"field": "lo", "type": "quantitative", "scale": {"domain": [0.445, 2.56], "nice": false, "zero": false}, "axis": {"values": [0.6, 1, 1.4, 1.8, 2.2], "labels": false, "title": null}},
     "x2": {"field": "hi"},
     "detail": {"field": "g", "type": "nominal"},
     "fill": {"condition": {"test": "datum.g === 'E'", "value": "#1a9a70"}, "value": "#d5cccc"},
     "fillOpacity": {"condition": {"test": "datum.g === 'E'", "value": 0.22}, "value": 1},
     "stroke": {"condition": {"test": "datum.g === 'E'", "value": "#1f8c6c"}, "value": "#3a1c1c"}
    }},
   {"data": {"name": "lines"}, "transform": [{"filter": "datum.p === 'd'"}],
    "mark": {"type": "rule", "strokeWidth": 1},
    "encoding": {
     "y": {"field": "v", "type": "quantitative", "scale": {"domain": [0.898, 2.101], "nice": false, "zero": false}},
     "x": {"field": "lo", "type": "quantitative", "scale": {"domain": [0.445, 2.56], "nice": false, "zero": false}},
     "x2": {"field": "hi"},
     "stroke": {"condition": {"test": "datum.g === 'E'", "value": "#3a9c7c"}, "value": "#6b5050"}
    }},
   {"data": {"name": "stats"}, "transform": [{"filter": "datum.p === 'd'"}],
    "mark": {"type": "rule", "strokeWidth": 2},
    "encoding": {
     "x": {"field": "gi", "type": "quantitative", "scale": {"domain": [0.445, 2.56], "nice": false, "zero": false}},
     "y": {"field": "mn", "type": "quantitative", "scale": {"domain": [0.898, 2.101], "nice": false, "zero": false}},
     "y2": {"field": "mx"},
     "stroke": {"condition": {"test": "datum.g === 'E'", "value": "#1a8464"}, "value": "#2a0f0f"}
    }},
   {"data": {"name": "points"}, "transform": [{"filter": "datum.p === 'd'"}],
    "mark": {"type": "point", "shape": "circle", "filled": false, "size": 75, "strokeWidth": 1.2},
    "encoding": {
     "x": {"field": "gi", "type": "quantitative", "scale": {"domain": [0.445, 2.56], "nice": false, "zero": false}},
     "y": {"field": "v", "type": "quantitative", "scale": {"domain": [0.898, 2.101], "nice": false, "zero": false}},
     "stroke": {"condition": {"test": "datum.g === 'E'", "value": "#4d9580"}, "value": "#7a6a6a"}
    }},
   {"data": {"name": "stats"}, "transform": [{"filter": "datum.p === 'd'"}],
    "mark": {"type": "bar", "width": 28, "cornerRadius": 6, "fill": "transparent", "strokeWidth": 3},
    "encoding": {
     "x": {"field": "gi", "type": "quantitative", "scale": {"domain": [0.445, 2.56], "nice": false, "zero": false}},
     "y": {"field": "q1", "type": "quantitative", "scale": {"domain": [0.898, 2.101], "nice": false, "zero": false}},
     "y2": {"field": "q3"},
     "stroke": {"condition": {"test": "datum.g === 'E'", "value": "#127a5a"}, "value": "#2a0f0f"}
    }},
   {"data": {"name": "stats"}, "transform": [{"filter": "datum.p === 'd'"}],
    "mark": {"type": "tick", "orient": "horizontal", "size": 28, "thickness": 3},
    "encoding": {
     "x": {"field": "gi", "type": "quantitative", "scale": {"domain": [0.445, 2.56], "nice": false, "zero": false}},
     "y": {"field": "md", "type": "quantitative", "scale": {"domain": [0.898, 2.101], "nice": false, "zero": false}},
     "color": {"condition": {"test": "datum.g === 'E'", "value": "#127a5a"}, "value": "#2a0f0f"}
    }},
   {"data": {"name": "pvals"}, "transform": [{"filter": "datum.p === 'd'"}],
    "mark": {"type": "text", "fontSize": 20, "align": "center", "baseline": "alphabetic", "color": "#222"},
    "encoding": {
     "x": {"datum": 1.53, "type": "quantitative", "scale": {"domain": [0.445, 2.56], "nice": false, "zero": false}},
     "y": {"datum": 1.9715, "type": "quantitative", "scale": {"domain": [0.898, 2.101], "nice": false, "zero": false}},
     "text": {"field": "label"}
    }},
   {"data": {"values": [{}]},
    "mark": {"type": "rule", "strokeWidth": 2.5, "strokeDash": [13, 4, 2, 4], "color": "#111"},
    "encoding": {"y": {"datum": 1, "type": "quantitative", "scale": {"domain": [0.898, 2.101], "nice": false, "zero": false}}}}
  ]
 },
 {
  "width": 418, "height": 338,
  "title": {"text": "e", "dx": -85, "offset": -4},
  "layer": [
   {"data": {"name": "violin"}, "transform": [{"filter": "datum.p === 'e'"}],
    "mark": {"type": "area", "orient": "horizontal", "interpolate": "monotone", "strokeWidth": 2},
    "encoding": {
     "y": {"field": "v", "type": "quantitative", "scale": {"domain": [0.901, 2.104], "nice": false, "zero": false}, "axis": {"values": [1, 1.2, 1.4, 1.6, 1.8, 2], "format": "~g", "title": ["MSD calculated through", "RGO (β(RGO))"], "titlePadding": 16}},
     "x": {"field": "lo", "type": "quantitative", "scale": {"domain": [0.445, 2.56], "nice": false, "zero": false}, "axis": {"values": [0.6, 1, 1.4, 1.8, 2.2], "labels": false, "title": null}},
     "x2": {"field": "hi"},
     "detail": {"field": "g", "type": "nominal"},
     "fill": {"condition": {"test": "datum.g === 'E'", "value": "#1a9a70"}, "value": "#d5cccc"},
     "fillOpacity": {"condition": {"test": "datum.g === 'E'", "value": 0.22}, "value": 1},
     "stroke": {"condition": {"test": "datum.g === 'E'", "value": "#1f8c6c"}, "value": "#3a1c1c"}
    }},
   {"data": {"name": "lines"}, "transform": [{"filter": "datum.p === 'e'"}],
    "mark": {"type": "rule", "strokeWidth": 1},
    "encoding": {
     "y": {"field": "v", "type": "quantitative", "scale": {"domain": [0.901, 2.104], "nice": false, "zero": false}},
     "x": {"field": "lo", "type": "quantitative", "scale": {"domain": [0.445, 2.56], "nice": false, "zero": false}},
     "x2": {"field": "hi"},
     "stroke": {"condition": {"test": "datum.g === 'E'", "value": "#3a9c7c"}, "value": "#6b5050"}
    }},
   {"data": {"name": "stats"}, "transform": [{"filter": "datum.p === 'e'"}],
    "mark": {"type": "rule", "strokeWidth": 2},
    "encoding": {
     "x": {"field": "gi", "type": "quantitative", "scale": {"domain": [0.445, 2.56], "nice": false, "zero": false}},
     "y": {"field": "mn", "type": "quantitative", "scale": {"domain": [0.901, 2.104], "nice": false, "zero": false}},
     "y2": {"field": "mx"},
     "stroke": {"condition": {"test": "datum.g === 'E'", "value": "#1a8464"}, "value": "#2a0f0f"}
    }},
   {"data": {"name": "points"}, "transform": [{"filter": "datum.p === 'e'"}],
    "mark": {"type": "point", "shape": "circle", "filled": false, "size": 75, "strokeWidth": 1.2},
    "encoding": {
     "x": {"field": "gi", "type": "quantitative", "scale": {"domain": [0.445, 2.56], "nice": false, "zero": false}},
     "y": {"field": "v", "type": "quantitative", "scale": {"domain": [0.901, 2.104], "nice": false, "zero": false}},
     "stroke": {"condition": {"test": "datum.g === 'E'", "value": "#4d9580"}, "value": "#7a6a6a"}
    }},
   {"data": {"name": "stats"}, "transform": [{"filter": "datum.p === 'e'"}],
    "mark": {"type": "bar", "width": 28, "cornerRadius": 6, "fill": "transparent", "strokeWidth": 3},
    "encoding": {
     "x": {"field": "gi", "type": "quantitative", "scale": {"domain": [0.445, 2.56], "nice": false, "zero": false}},
     "y": {"field": "q1", "type": "quantitative", "scale": {"domain": [0.901, 2.104], "nice": false, "zero": false}},
     "y2": {"field": "q3"},
     "stroke": {"condition": {"test": "datum.g === 'E'", "value": "#127a5a"}, "value": "#2a0f0f"}
    }},
   {"data": {"name": "stats"}, "transform": [{"filter": "datum.p === 'e'"}],
    "mark": {"type": "tick", "orient": "horizontal", "size": 28, "thickness": 3},
    "encoding": {
     "x": {"field": "gi", "type": "quantitative", "scale": {"domain": [0.445, 2.56], "nice": false, "zero": false}},
     "y": {"field": "md", "type": "quantitative", "scale": {"domain": [0.901, 2.104], "nice": false, "zero": false}},
     "color": {"condition": {"test": "datum.g === 'E'", "value": "#127a5a"}, "value": "#2a0f0f"}
    }},
   {"data": {"name": "pvals"}, "transform": [{"filter": "datum.p === 'e'"}],
    "mark": {"type": "text", "fontSize": 20, "align": "center", "baseline": "alphabetic", "color": "#222"},
    "encoding": {
     "x": {"datum": 1.53, "type": "quantitative", "scale": {"domain": [0.445, 2.56], "nice": false, "zero": false}},
     "y": {"datum": 1.9715, "type": "quantitative", "scale": {"domain": [0.901, 2.104], "nice": false, "zero": false}},
     "text": {"field": "label"}
    }},
   {"data": {"values": [{}]},
    "mark": {"type": "rule", "strokeWidth": 2.5, "strokeDash": [13, 4, 2, 4], "color": "#111"},
    "encoding": {"y": {"datum": 1, "type": "quantitative", "scale": {"domain": [0.901, 2.104], "nice": false, "zero": false}}}}
  ]
 },
 {
  "width": 418, "height": 338,
  "title": {"text": "f", "dx": -89, "offset": -1.4},
  "layer": [
   {"data": {"name": "violin"}, "transform": [{"filter": "datum.p === 'f'"}],
    "mark": {"type": "area", "orient": "horizontal", "interpolate": "monotone", "strokeWidth": 2},
    "encoding": {
     "y": {"field": "v", "type": "quantitative", "scale": {"domain": [0.011, 0.884], "nice": false, "zero": false}, "axis": {"values": [0.1, 0.2, 0.3, 0.4, 0.5, 0.6, 0.7, 0.8], "format": "~g", "title": "directionality ratio (DR)", "titlePadding": 31}},
     "x": {"field": "lo", "type": "quantitative", "scale": {"domain": [0.445, 2.56], "nice": false, "zero": false}, "axis": {"values": [0.6, 1, 1.4, 1.8, 2.2], "labels": false, "title": null}},
     "x2": {"field": "hi"},
     "detail": {"field": "g", "type": "nominal"},
     "fill": {"condition": {"test": "datum.g === 'E'", "value": "#1a9a70"}, "value": "#d5cccc"},
     "fillOpacity": {"condition": {"test": "datum.g === 'E'", "value": 0.22}, "value": 1},
     "stroke": {"condition": {"test": "datum.g === 'E'", "value": "#1f8c6c"}, "value": "#3a1c1c"}
    }},
   {"data": {"name": "lines"}, "transform": [{"filter": "datum.p === 'f'"}],
    "mark": {"type": "rule", "strokeWidth": 1},
    "encoding": {
     "y": {"field": "v", "type": "quantitative", "scale": {"domain": [0.011, 0.884], "nice": false, "zero": false}},
     "x": {"field": "lo", "type": "quantitative", "scale": {"domain": [0.445, 2.56], "nice": false, "zero": false}},
     "x2": {"field": "hi"},
     "stroke": {"condition": {"test": "datum.g === 'E'", "value": "#3a9c7c"}, "value": "#6b5050"}
    }},
   {"data": {"name": "stats"}, "transform": [{"filter": "datum.p === 'f'"}],
    "mark": {"type": "rule", "strokeWidth": 2},
    "encoding": {
     "x": {"field": "gi", "type": "quantitative", "scale": {"domain": [0.445, 2.56], "nice": false, "zero": false}},
     "y": {"field": "mn", "type": "quantitative", "scale": {"domain": [0.011, 0.884], "nice": false, "zero": false}},
     "y2": {"field": "mx"},
     "stroke": {"condition": {"test": "datum.g === 'E'", "value": "#1a8464"}, "value": "#2a0f0f"}
    }},
   {"data": {"name": "points"}, "transform": [{"filter": "datum.p === 'f'"}],
    "mark": {"type": "point", "shape": "circle", "filled": false, "size": 75, "strokeWidth": 1.2},
    "encoding": {
     "x": {"field": "gi", "type": "quantitative", "scale": {"domain": [0.445, 2.56], "nice": false, "zero": false}},
     "y": {"field": "v", "type": "quantitative", "scale": {"domain": [0.011, 0.884], "nice": false, "zero": false}},
     "stroke": {"condition": {"test": "datum.g === 'E'", "value": "#4d9580"}, "value": "#7a6a6a"}
    }},
   {"data": {"name": "stats"}, "transform": [{"filter": "datum.p === 'f'"}],
    "mark": {"type": "bar", "width": 28, "cornerRadius": 6, "fill": "transparent", "strokeWidth": 3},
    "encoding": {
     "x": {"field": "gi", "type": "quantitative", "scale": {"domain": [0.445, 2.56], "nice": false, "zero": false}},
     "y": {"field": "q1", "type": "quantitative", "scale": {"domain": [0.011, 0.884], "nice": false, "zero": false}},
     "y2": {"field": "q3"},
     "stroke": {"condition": {"test": "datum.g === 'E'", "value": "#127a5a"}, "value": "#2a0f0f"}
    }},
   {"data": {"name": "stats"}, "transform": [{"filter": "datum.p === 'f'"}],
    "mark": {"type": "tick", "orient": "horizontal", "size": 28, "thickness": 3},
    "encoding": {
     "x": {"field": "gi", "type": "quantitative", "scale": {"domain": [0.445, 2.56], "nice": false, "zero": false}},
     "y": {"field": "md", "type": "quantitative", "scale": {"domain": [0.011, 0.884], "nice": false, "zero": false}},
     "color": {"condition": {"test": "datum.g === 'E'", "value": "#127a5a"}, "value": "#2a0f0f"}
    }},
   {"data": {"name": "pvals"}, "transform": [{"filter": "datum.p === 'f'"}],
    "mark": {"type": "text", "fontSize": 20, "align": "center", "baseline": "alphabetic", "color": "#222"},
    "encoding": {
     "x": {"datum": 1.53, "type": "quantitative", "scale": {"domain": [0.445, 2.56], "nice": false, "zero": false}},
     "y": {"datum": 0.786, "type": "quantitative", "scale": {"domain": [0.011, 0.884], "nice": false, "zero": false}},
     "text": {"field": "label"}
    }}
  ]
 },
 {
  "width": 418, "height": 338,
  "title": {"text": "g", "dx": -85, "offset": -11.6},
  "layer": [
   {"data": {"name": "violin"}, "transform": [{"filter": "datum.p === 'g'"}],
    "mark": {"type": "area", "orient": "horizontal", "interpolate": "monotone", "strokeWidth": 2},
    "encoding": {
     "y": {"field": "v", "type": "quantitative", "scale": {"domain": [1.681, 6.295], "nice": false, "zero": false}, "axis": {"values": [2, 2.5, 3, 3.5, 4, 4.5, 5, 5.5, 6], "format": "~g", "title": "average speed (AS)", "titlePadding": 21}},
     "x": {"field": "lo", "type": "quantitative", "scale": {"domain": [0.445, 2.56], "nice": false, "zero": false}, "axis": {"values": [0.6, 1, 1.4, 1.8, 2.2], "labels": false, "title": null}},
     "x2": {"field": "hi"},
     "detail": {"field": "g", "type": "nominal"},
     "fill": {"condition": {"test": "datum.g === 'E'", "value": "#1a9a70"}, "value": "#d5cccc"},
     "fillOpacity": {"condition": {"test": "datum.g === 'E'", "value": 0.22}, "value": 1},
     "stroke": {"condition": {"test": "datum.g === 'E'", "value": "#1f8c6c"}, "value": "#3a1c1c"}
    }},
   {"data": {"name": "lines"}, "transform": [{"filter": "datum.p === 'g'"}],
    "mark": {"type": "rule", "strokeWidth": 1},
    "encoding": {
     "y": {"field": "v", "type": "quantitative", "scale": {"domain": [1.681, 6.295], "nice": false, "zero": false}},
     "x": {"field": "lo", "type": "quantitative", "scale": {"domain": [0.445, 2.56], "nice": false, "zero": false}},
     "x2": {"field": "hi"},
     "stroke": {"condition": {"test": "datum.g === 'E'", "value": "#3a9c7c"}, "value": "#6b5050"}
    }},
   {"data": {"name": "stats"}, "transform": [{"filter": "datum.p === 'g'"}],
    "mark": {"type": "rule", "strokeWidth": 2},
    "encoding": {
     "x": {"field": "gi", "type": "quantitative", "scale": {"domain": [0.445, 2.56], "nice": false, "zero": false}},
     "y": {"field": "mn", "type": "quantitative", "scale": {"domain": [1.681, 6.295], "nice": false, "zero": false}},
     "y2": {"field": "mx"},
     "stroke": {"condition": {"test": "datum.g === 'E'", "value": "#1a8464"}, "value": "#2a0f0f"}
    }},
   {"data": {"name": "points"}, "transform": [{"filter": "datum.p === 'g'"}],
    "mark": {"type": "point", "shape": "circle", "filled": false, "size": 75, "strokeWidth": 1.2},
    "encoding": {
     "x": {"field": "gi", "type": "quantitative", "scale": {"domain": [0.445, 2.56], "nice": false, "zero": false}},
     "y": {"field": "v", "type": "quantitative", "scale": {"domain": [1.681, 6.295], "nice": false, "zero": false}},
     "stroke": {"condition": {"test": "datum.g === 'E'", "value": "#4d9580"}, "value": "#7a6a6a"}
    }},
   {"data": {"name": "stats"}, "transform": [{"filter": "datum.p === 'g'"}],
    "mark": {"type": "bar", "width": 28, "cornerRadius": 6, "fill": "transparent", "strokeWidth": 3},
    "encoding": {
     "x": {"field": "gi", "type": "quantitative", "scale": {"domain": [0.445, 2.56], "nice": false, "zero": false}},
     "y": {"field": "q1", "type": "quantitative", "scale": {"domain": [1.681, 6.295], "nice": false, "zero": false}},
     "y2": {"field": "q3"},
     "stroke": {"condition": {"test": "datum.g === 'E'", "value": "#127a5a"}, "value": "#2a0f0f"}
    }},
   {"data": {"name": "stats"}, "transform": [{"filter": "datum.p === 'g'"}],
    "mark": {"type": "tick", "orient": "horizontal", "size": 28, "thickness": 3},
    "encoding": {
     "x": {"field": "gi", "type": "quantitative", "scale": {"domain": [0.445, 2.56], "nice": false, "zero": false}},
     "y": {"field": "md", "type": "quantitative", "scale": {"domain": [1.681, 6.295], "nice": false, "zero": false}},
     "color": {"condition": {"test": "datum.g === 'E'", "value": "#127a5a"}, "value": "#2a0f0f"}
    }},
   {"data": {"name": "pvals"}, "transform": [{"filter": "datum.p === 'g'"}],
    "mark": {"type": "text", "fontSize": 20, "align": "center", "baseline": "alphabetic", "color": "#222"},
    "encoding": {
     "x": {"datum": 1.53, "type": "quantitative", "scale": {"domain": [0.445, 2.56], "nice": false, "zero": false}},
     "y": {"datum": 5.778, "type": "quantitative", "scale": {"domain": [1.681, 6.295], "nice": false, "zero": false}},
     "text": {"field": "label"}
    }},
   {"data": {"values": [{}]},
    "mark": {"type": "text", "fontSize": 12, "align": "left", "baseline": "alphabetic", "color": "#222"},
    "encoding": {
     "x": {"datum": 0.445, "type": "quantitative", "scale": {"domain": [0.445, 2.56], "nice": false, "zero": false}},
     "y": {"datum": 6.368, "type": "quantitative", "scale": {"domain": [1.681, 6.295], "nice": false, "zero": false}},
     "text": {"value": "x 10⁻³"}
    }}
  ]
 }
]
}
